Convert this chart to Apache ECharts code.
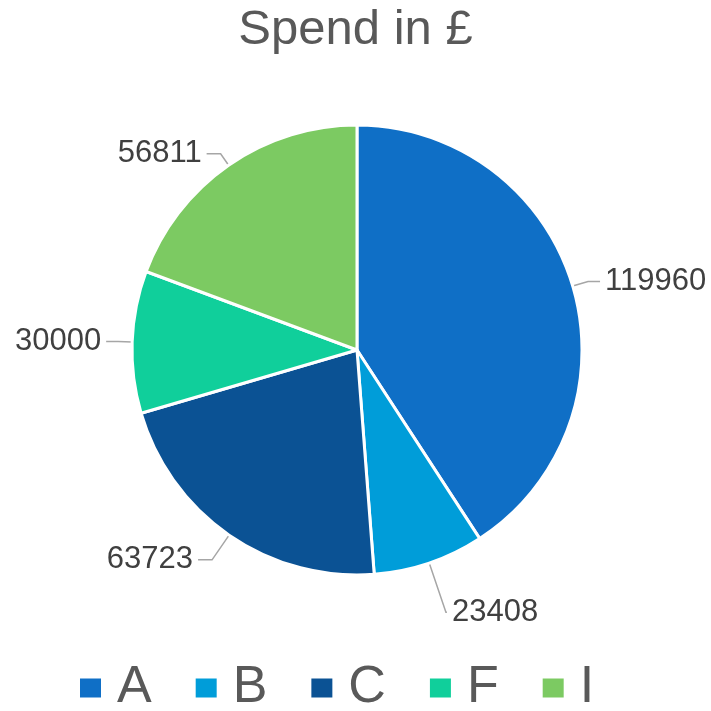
<!DOCTYPE html>
<html>
<head>
<meta charset="utf-8">
<script src="https://cdn.jsdelivr.net/npm/echarts@6/dist/echarts.min.js"></script>
<style>
  html, body { margin: 0; padding: 0; background: #fff; }
  #myChart { width: 711px; height: 711px; }
</style>
</head>
<body>
<div id="myChart"></div>
<script>
var categories = ['A', 'B', 'C', 'F', 'I']
var spend = [119960, 23408, 63723, 30000, 56811]
var colors = ['#0f6fc6', '#009dd9', '#0b5294', '#10cf9b', '#7cca62']
// label line lengths, tuned per slice so labels sit like the original
var lineLen = [16, 52, 30, 14, 14]
var lineLen2 = [12, 1, 14, 12, 14]

var myChart = echarts.init(document.getElementById('myChart'))

var option = {
  title: {
    text: 'Spend in £',
    left: 'center',
    top: 1,
    textStyle: {
      fontFamily: 'Liberation Sans, Arial, sans-serif',
      fontSize: 49,
      fontWeight: 'normal',
      color: '#595959'
    }
  },
  legend: {
    top: 657,
    left: 73,
    itemWidth: 23,
    itemHeight: 21,
    itemGap: 42,
    icon: 'rect',
    data: categories,
    textStyle: {
      fontFamily: 'Liberation Sans, Arial, sans-serif',
      fontSize: 52,
      color: '#595959',
      padding: [0, 0, 0, 10]
    }
  },
  series: [
    {
      type: 'pie',
      center: [357, 350],
      radius: 225,
      startAngle: 90,
      clockwise: true,
      label: {
        color: '#404040',
        fontFamily: 'Liberation Sans, Arial, sans-serif',
        fontSize: 31,
        overflow: 'none',
        edgeDistance: 0,
        formatter: '{c}'
      },
      labelLine: {
        smooth: false,
        lineStyle: {
          color: '#a6a6a6',
          width: 1.5
        }
      },
      itemStyle: {
        borderColor: '#fff',
        borderWidth: 3
      },
      emphasis: { disabled: true },
      data: categories.map(function (name, i) {
        return {
          name: name,
          value: spend[i],
          itemStyle: { color: colors[i] },
          labelLine: { length: lineLen[i], length2: lineLen2[i] }
        }
      })
    }
  ]
}

myChart.setOption(option)
</script>
</body>
</html>
